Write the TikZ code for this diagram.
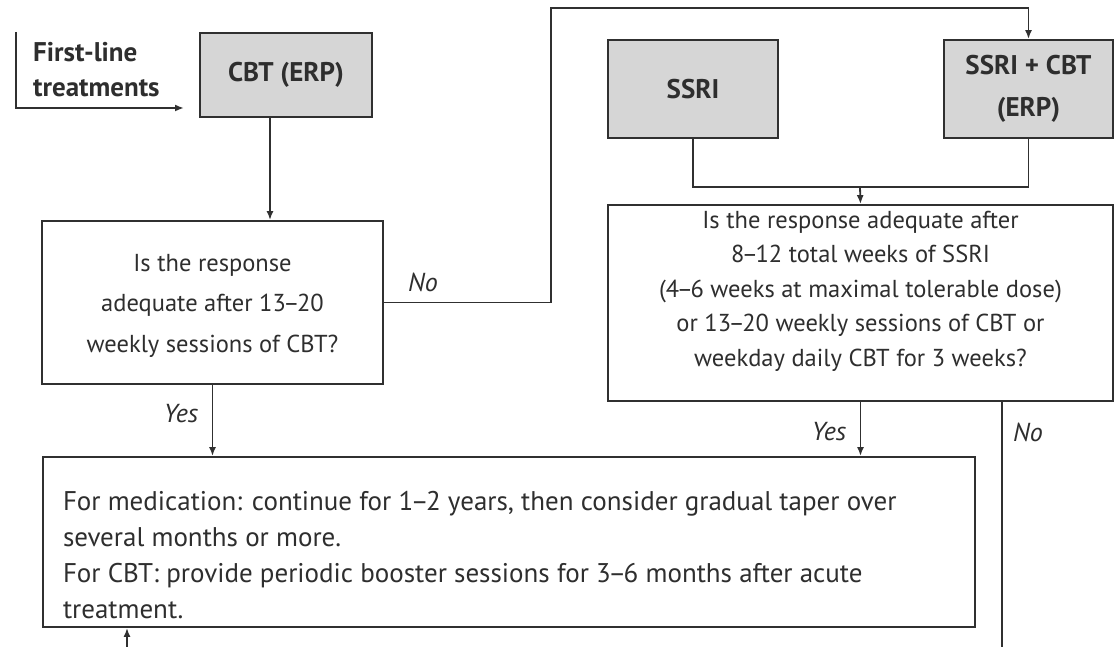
\documentclass[tikz,border=0pt]{standalone}
\usepackage{fontspec}
\setmainfont{PT Sans}
\usetikzlibrary{arrows.meta}
\definecolor{linec}{HTML}{303030}
\definecolor{textc}{HTML}{2E2E2E}
\definecolor{boxfill}{HTML}{D6D6D6}
% tight en-dash for number ranges
\newcommand\rng{\kern-2.5pt--\kern-2.5pt}
\begin{document}
\begin{tikzpicture}[x=1pt,y=-1pt,
  base/.style={draw=linec, line width=1.8pt, inner sep=0pt, text=textc},
  greybox/.style={base, fill=boxfill, align=center, font=\bfseries\fontsize{27}{42}\selectfont},
  plainbox/.style={base, fill=white},
  conn/.style={draw=linec, line width=1.8pt},
  arr/.style={conn, -{Latex[length=9pt,width=7pt]}},
  tag/.style={font=\itshape\fontsize{26}{28}\selectfont, text=textc, inner sep=0pt}]
\useasboundingbox (0,0) rectangle (1116,647);

% treatment boxes
\node[greybox, minimum width=172pt, minimum height=84pt] (cbt) at (286,75) {CBT (ERP)};
\node[greybox, minimum width=170pt, minimum height=98pt] (ssri) at (693,89) {SSRI};
\node[greybox, minimum width=169pt, minimum height=98pt] (combo) at (1028.5,89) {SSRI + CBT\\(ERP)};

% first-line label
\node[font=\bfseries\fontsize{27}{35}\selectfont, text=textc, align=left, anchor=north west, inner sep=0pt] (first) at (33,42) {First-line\\treatments};

% decision boxes
\node[plainbox] (q1) at (212.5,302.5) {\fontsize{24.5}{40.5}\selectfont
  \parbox[c][163pt][c]{341pt}{\vspace*{6pt}\centering Is the response\\ adequate after 13\rng20\\ weekly sessions of CBT?}};
\node[plainbox] (q2) at (860.5,303) {\fontsize{24.5}{34.5}\selectfont
  \parbox[c][196pt][t]{505pt}{\vspace*{6pt}\centering Is the response adequate after\\ 8\rng12 total weeks of SSRI\\ (4\rng6 weeks at maximal tolerable dose)\\ or 13\rng20 weekly sessions of CBT or\\ weekday daily CBT for 3 weeks?}};

% maintenance box
\node[plainbox, inner xsep=20pt] (out) at (509,542) {\fontsize{27}{36}\selectfont
  \parbox[c][170pt][t]{892pt}{\vspace*{34pt}\raggedright For medication: continue for 1\rng2 years, then consider gradual taper over\\ several months or more.\\ For CBT: provide periodic booster sessions for 3\rng6 months after acute\\ treatment.}};

% helper points for connector ends
\coordinate (flstart) at (16,32);
\coordinate (flend) at (184,108);
\coordinate (cbtx) at (270,0);
\coordinate (noturn) at (551,8);
\coordinate (join) at (860,187);
\coordinate (noend) at (1002,647);
\coordinate (loop) at (127,647);

% connectors
\draw[arr] (flstart) |- (flend);
\draw[arr] (cbt.south -| cbtx) -- (q1.north -| cbtx);
\draw[arr] (q1.east) -| (noturn) -| (combo.north);
\draw[conn] (ssri.south) |- (join) -| (combo.south);
\draw[arr] (join) -- (q2.north);
\draw[arr] (q1.south) -- (out.north -| q1.south);
\draw[arr] (q2.south) -- (out.north -| q2.south);
\draw[conn] (q2.south -| noend) -- (noend);
\draw[arr] (loop) -- (out.south -| loop);

% branch labels
\node[tag] (no1) at (423,282) {No};
\node[tag] (yes1) at (181,414) {Yes};
\node[tag] (yes2) at (829,432) {Yes};
\node[tag] (no2) at (1028,432) {No};
\end{tikzpicture}
\end{document}
